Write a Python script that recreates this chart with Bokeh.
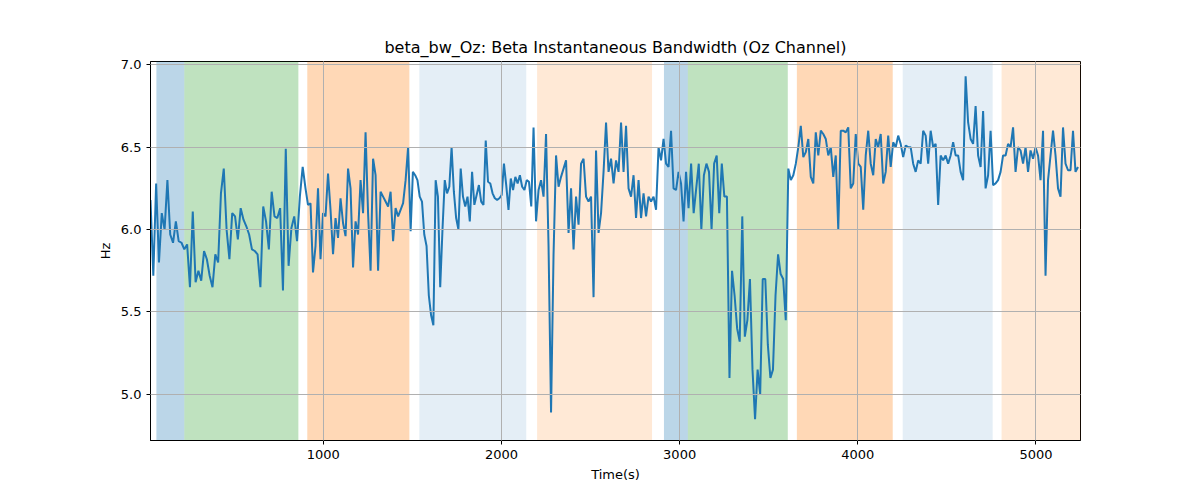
import numpy as np
from bokeh.plotting import figure
from bokeh.models import BoxAnnotation, Range1d, FixedTicker, CustomJSTickFormatter
from bokeh.embed import file_html
from bokeh.resources import INLINE

seg_times = [30, 900, 1490, 2180, 3050, 3610, 5250]
seg_a = [6.18,5.72,6.28,5.8,6.1,6.0,6.3,5.97,5.92,6.05,5.93,5.92,5.88,5.91,5.65,6.11,5.68,5.75,5.69,5.87,5.82,5.72,5.65,5.85,5.8,6.22,6.37,6.0,5.82,6.1,6.08,5.94,6.13,6.06,6.02,5.97,5.88,5.87,5.85,5.65,6.14,6.05,5.88,6.23,6.08,6.07,6.13,5.63,6.49,5.78,6.01,6.08,5.93,6.2,6.38]
seg_b = [6.25,6.15,6.16,5.74,5.9,6.25,5.82,6.1,6.08,6.34,6.12,5.85,6.07,5.95,6.19,6.04,5.96,6.37,6.25,5.77,6.05,5.97,6.3,6.1,6.59,6.1,5.75,6.43,6.33,5.75,6.23,6.2,6.17,6.14,6.23,5.93,6.13,6.08,6.12,6.16,6.3,6.5]
seg_c = [5.99,6.35,6.33,6.3,6.2,6.17,5.97,5.9,5.6,5.48,5.42,6.3,6.2,5.65,6.0,6.3,6.22,6.26,6.5,6.23,6.07,6.0,6.37,6.2,6.14,6.2,6.05,6.35,6.15,6.21,6.27,6.17,6.15,6.54,6.29,6.28,6.22,6.19,6.18,6.19,6.21,6.4,6.27,6.12,6.31,6.24,6.32,6.28,6.33,6.26,6.24,6.3,6.29,6.14]
seg_d = [6.62,6.05,6.24,6.3,6.2,6.58,5.9,4.89,5.85,6.45,6.26,6.32,6.37,6.42,5.98,6.25,5.88,6.2,6.03,6.4,6.43,6.2,6.17,6.2,5.59,6.48,5.98,6.1,6.35,6.65,6.35,6.43,6.28,6.42,6.35,6.65,
         6.35,6.63,6.25,6.2,6.33,6.07,6.3,6.07,6.22,6.08,6.2,6.17,6.2,6.12,6.5,6.42,6.55,6.4,6.38,6.6,6.25,6.24,6.35,6.28,6.05,6.35]
seg_e = [6.13,6.4,6.1,6.25,6.4,6.0,6.33,6.4,6.35,6.0,6.4,6.45,6.1,6.4,6.2,6.2,5.1,5.75,5.6,5.4,5.32,6.08,5.35,5.45,5.7,5.15,4.85,5.15,5.0,5.7,5.7,5.3,5.1,5.15,5.6,5.85,5.73,5.7,5.45]
seg_f = [6.37,6.3,6.33,6.4,6.5,6.63,6.44,6.47,6.55,6.32,6.28,6.59,6.45,6.6,6.58,6.55,6.45,6.5,6.32,6.45,6.0,6.6,6.6,6.59,6.62,6.25,6.28,6.58,6.4,6.38,6.12,
         6.45,6.6,6.4,6.33,6.55,6.5,6.58,6.28,6.35,6.57,6.38,6.53,6.5,6.57,6.52,6.44,6.51,6.5,6.5,6.4,6.35,6.42,6.4,6.6,6.57,6.4,6.6,6.5,6.52,6.15,6.45,6.42,6.45,6.4,6.45,6.53,6.45,6.45,6.35,6.3,6.93,6.65,6.55,6.52,6.75,6.45,6.38,6.72,6.25,6.33,6.6,
         6.27,6.28,6.3,6.35,6.45,6.45,6.52,6.5,6.62,6.35,6.5,6.48,6.4,6.5,6.35,6.48,6.43,6.5,6.45,6.3,6.6,5.72,6.3,6.45,6.6,6.45,6.25,6.2,6.62,6.4,6.36,6.36,6.6,6.35,6.38]
segments = [seg_a, seg_b, seg_c, seg_d, seg_e, seg_f]

band_start = [63, 220, 910, 1539, 2200, 2912, 3046, 3658, 4252, 4807]
band_end = [220, 860, 1483, 2139, 2845, 3046, 3607, 4196, 4757, 5300]
band_color = ["#1f77b4", "#2ca02c", "#ff7f0e", "#1f77b4", "#ff7f0e", "#1f77b4", "#2ca02c", "#ff7f0e", "#1f77b4", "#ff7f0e"]
band_alpha = [0.3, 0.3, 0.3, 0.12, 0.17, 0.3, 0.3, 0.3, 0.12, 0.17]

xs, ys = [], []
for i, seg in enumerate(segments):
    n = len(seg)
    t = np.linspace(seg_times[i], seg_times[i + 1], n, endpoint=False)
    xs.extend(t.tolist()); ys.extend(seg)

p = figure(width=1184, height=484, output_backend="svg", toolbar_location=None,
           x_range=Range1d(30, 5250), y_range=Range1d(4.72, 7.02),
           title="beta_bw_Oz: Beta Instantaneous Bandwidth (Oz Channel)",
           x_axis_label="Time(s)", y_axis_label="Hz",
           min_border_left=150, min_border_right=104, min_border_top=61, min_border_bottom=32)
for s, e, c, a in zip(band_start, band_end, band_color, band_alpha):
    p.add_layout(BoxAnnotation(left=s, right=e, fill_color=c, fill_alpha=a, line_alpha=0, level="underlay"))
p.line(xs, ys, line_color="#1f77b4", line_width=2)

p.title.align = "center"
p.title.text_font = "DejaVu Sans"
p.title.text_font_size = "16px"
p.title.text_font_style = "normal"
p.title.text_color = "black"
p.xaxis.ticker = FixedTicker(ticks=[1000, 2000, 3000, 4000, 5000])
p.yaxis.ticker = FixedTicker(ticks=[5.0, 5.5, 6.0, 6.5, 7.0])
p.yaxis.formatter = CustomJSTickFormatter(code="return tick.toFixed(1);")
for ax in (p.xaxis, p.yaxis):
    ax.axis_label_text_font = "DejaVu Sans"
    ax.axis_label_text_font_style = "normal"
    ax.axis_label_text_font_size = "13px"
    ax.axis_label_text_color = "black"
    ax.major_label_text_font = "DejaVu Sans"
    ax.major_label_text_font_size = "13px"
    ax.major_label_text_color = "black"
    ax.minor_tick_line_color = None
    ax.major_tick_out = 4
    ax.major_tick_in = 0
    ax.axis_line_color = "black"
    ax.major_tick_line_color = "black"
p.grid.grid_line_color = "#b0b0b0"
p.grid.grid_line_alpha = 1.0
p.grid.level = "overlay"
p.outline_line_color = "black"
p.background_fill_color = "white"

open("out.html", "w").write(file_html(p, INLINE))
